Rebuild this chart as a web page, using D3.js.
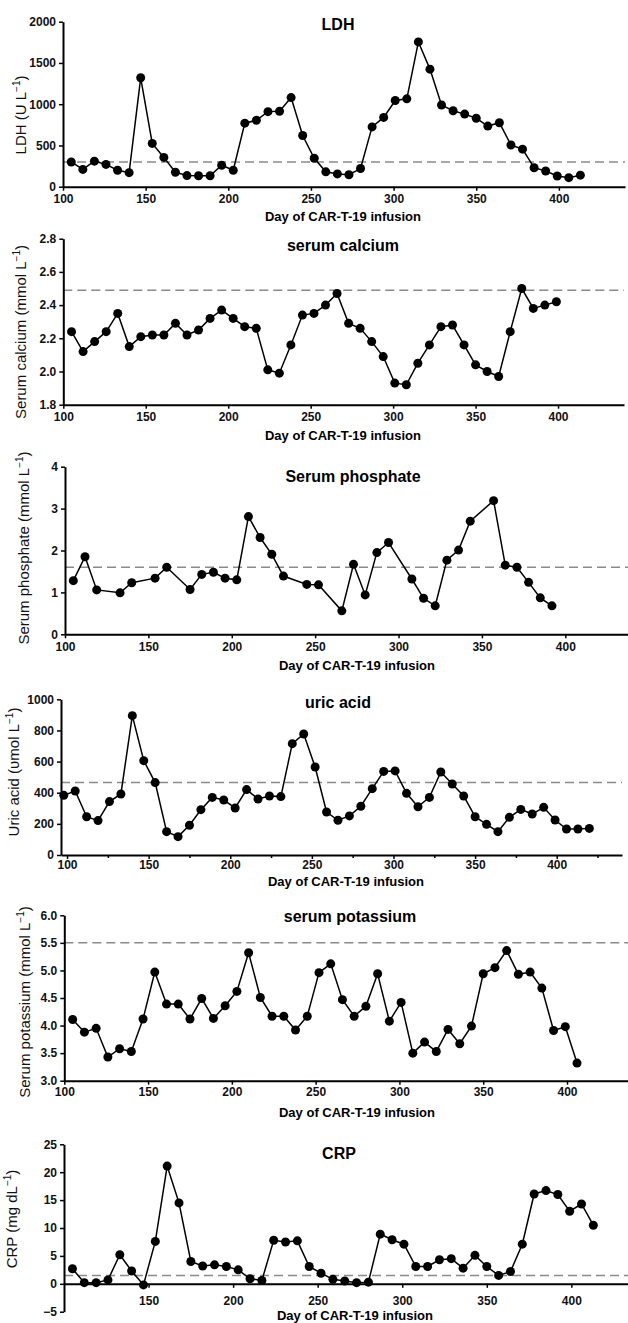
<!DOCTYPE html>
<html>
<head>
<meta charset="utf-8">
<script src="https://cdn.jsdelivr.net/npm/d3@7"></script>
<style>
    body { margin: 0; background: #fff; }
    svg { display: block; }
    .tick text {
        font-family: "Liberation Sans Narrow", "Liberation Sans", Arial, sans-serif;
        font-weight: bold;
        font-size: 12px;
        fill: #111;
    }
</style>
</head>
<body>
<div id="chart"></div>
<script>
// ---- data ----
const ldhDays = [105, 112, 119, 126, 133, 140, 147, 154, 161, 168, 175, 182, 189, 196, 203, 210, 217, 224, 231, 238, 245, 252, 259, 266, 273, 280, 287, 294, 301, 308, 315, 322, 329, 336, 343, 350, 357, 364, 371, 378, 385, 392, 399, 406, 413];
const ldhValues = [300, 210, 310, 270, 200, 170, 1320, 525, 355, 175, 135, 133, 133, 260, 200, 770, 805, 910, 915, 1080, 620, 345, 180, 155, 145, 220, 725, 840, 1045, 1065, 1755, 1425, 990, 920, 880, 830, 735, 775, 505, 455, 230, 190, 130, 110, 140];
const ldhRef = 300;
const ldhTicks = [0, 500, 1000, 1500, 2000];

const calciumDays = [105, 112, 119, 126, 133, 140, 147, 154, 161, 168, 175, 182, 189, 196, 203, 210, 217, 224, 231, 238, 245, 252, 259, 266, 273, 280, 287, 294, 301, 308, 315, 322, 329, 336, 343, 350, 357, 364, 371, 378, 385, 392, 399];
const calciumValues = [2.24, 2.12, 2.18, 2.24, 2.35, 2.15, 2.21, 2.22, 2.22, 2.29, 2.22, 2.25, 2.32, 2.37, 2.32, 2.27, 2.26, 2.01, 1.99, 2.16, 2.34, 2.35, 2.40, 2.47, 2.29, 2.26, 2.18, 2.09, 1.93, 1.92, 2.05, 2.16, 2.27, 2.28, 2.16, 2.04, 2.00, 1.97, 2.24, 2.50, 2.38, 2.40, 2.42];
const calciumRef = 2.49;
const calciumTicks = [1.8, 2.0, 2.2, 2.4, 2.6, 2.8];

const phosphateDays = [105, 112, 119, 133, 140, 154, 161, 175, 182, 189, 196, 203, 210, 217, 224, 231, 245, 252, 266, 273, 280, 287, 294, 308, 315, 322, 329, 336, 343, 357, 364, 371, 378, 385, 392];
const phosphateValues = [1.28, 1.85, 1.06, 0.99, 1.23, 1.34, 1.60, 1.07, 1.43, 1.48, 1.34, 1.30, 2.81, 2.31, 1.91, 1.39, 1.19, 1.18, 0.56, 1.67, 0.94, 1.95, 2.19, 1.32, 0.86, 0.68, 1.77, 2.01, 2.70, 3.19, 1.65, 1.60, 1.24, 0.87, 0.68];
const phosphateRef = 1.6;
const phosphateTicks = [0, 1, 2, 3, 4];

const uricDays = [98, 105, 112, 119, 126, 133, 140, 147, 154, 161, 168, 175, 182, 189, 196, 203, 210, 217, 224, 231, 238, 245, 252, 259, 266, 273, 280, 287, 294, 301, 308, 315, 322, 329, 336, 343, 350, 357, 364, 371, 378, 385, 392, 399, 406, 413, 420];
const uricValues = [383, 411, 246, 221, 343, 392, 895, 606, 465, 150, 118, 191, 291, 370, 353, 302, 420, 360, 379, 375, 715, 777, 565, 276, 223, 251, 313, 426, 537, 540, 396, 310, 370, 533, 456, 379, 246, 197, 150, 242, 293, 263, 306, 225, 167, 167, 171];
const uricRef = 465;
const uricTicks = [0, 200, 400, 600, 800, 1000];
const uricMinorTicks = [125, 175, 225, 275, 325, 375, 425];

const potassiumDays = [105, 112, 119, 126, 133, 140, 147, 154, 161, 168, 175, 182, 189, 196, 203, 210, 217, 224, 231, 238, 245, 252, 259, 266, 273, 280, 287, 294, 301, 308, 315, 322, 329, 336, 343, 350, 357, 364, 371, 378, 385, 392, 399, 406];
const potassiumValues = [4.11, 3.88, 3.95, 3.43, 3.58, 3.53, 4.12, 4.97, 4.39, 4.39, 4.12, 4.49, 4.13, 4.36, 4.62, 5.32, 4.51, 4.17, 4.17, 3.92, 4.17, 4.96, 5.12, 4.47, 4.17, 4.35, 4.94, 4.08, 4.42, 3.50, 3.70, 3.53, 3.93, 3.67, 3.99, 4.94, 5.05, 5.36, 4.93, 4.97, 4.68, 3.91, 3.98, 3.32];
const potassiumRef = 5.5;
const potassiumTicks = [3.0, 3.5, 4.0, 4.5, 5.0, 5.5, 6.0];

const crpDays = [105, 112, 119, 126, 133, 140, 147, 154, 161, 168, 175, 182, 189, 196, 203, 210, 217, 224, 231, 238, 245, 252, 259, 266, 273, 280, 287, 294, 301, 308, 315, 322, 329, 336, 343, 350, 357, 364, 371, 378, 385, 392, 399, 406, 413];
const crpValues = [2.7, 0.2, 0.2, 0.7, 5.2, 2.3, -0.2, 7.6, 21.1, 14.5, 4.0, 3.2, 3.4, 3.1, 2.5, 0.9, 0.6, 7.8, 7.5, 7.7, 3.1, 1.9, 0.8, 0.5, 0.2, 0.3, 8.9, 7.9, 7.1, 3.1, 3.1, 4.3, 4.5, 2.8, 5.1, 3.1, 1.5, 2.2, 7.1, 16.1, 16.7, 16.0, 13.0, 14.3, 10.5];
const crpRef = 1.5;
const crpTicks = [-5, 0, 5, 10, 15, 20, 25];

const dayTicks = [100, 150, 200, 250, 300, 350, 400];
const crpDayTicks = [150, 200, 250, 300, 350, 400];
const xAxisTitle = 'Day of CAR-T-19 infusion';

// ---- panels: data + layout ----
const panels = [
    {
        title: 'LDH', yLabel: 'LDH (U L', days: ldhDays, values: ldhValues, ref: ldhRef,
        yTicks: ldhTicks, fmt: d3.format('d'), xTicks: dayTicks,
        xDomain: [100, 440], xRange: [63, 625], yDomain: [0, 2000], yRange: [186.7, 21.7],
        xPad: 4, title_xy: [338, 24], xTitle_xy: [343, 216], yLabel_xy: [21, 115]
    },
    {
        title: 'serum calcium', yLabel: 'Serum calcium (mmol L', days: calciumDays, values: calciumValues, ref: calciumRef,
        yTicks: calciumTicks, fmt: d3.format('.1f'), xTicks: dayTicks,
        xDomain: [100, 440], xRange: [63.3, 624], yDomain: [1.8, 2.8], yRange: [404.7, 238.7],
        xPad: 4, title_xy: [343, 245], xTitle_xy: [343, 435], yLabel_xy: [21, 332]
    },
    {
        title: 'Serum phosphate', yLabel: 'Serum phosphate (mmol L', days: phosphateDays, values: phosphateValues, ref: phosphateRef,
        yTicks: phosphateTicks, fmt: d3.format('d'), xTicks: dayTicks,
        xDomain: [100, 440], xRange: [65, 632], yDomain: [0, 4], yRange: [634.3, 466.7],
        xPad: 4, title_xy: [353, 476], xTitle_xy: [357, 665], yLabel_xy: [24, 548]
    },
    {
        title: 'uric acid', yLabel: 'Uric acid (\u03c5mol L', days: uricDays, values: uricValues, ref: uricRef,
        yTicks: uricTicks, fmt: d3.format('d'), xTicks: dayTicks, minor: uricMinorTicks,
        xDomain: [96.3, 440], xRange: [61, 622], yDomain: [0, 1000], yRange: [855, 699.3],
        xPad: 1, title_xy: [338, 702], xTitle_xy: [346, 881], yLabel_xy: [14, 772]
    },
    {
        title: 'serum potassium', yLabel: 'Serum potassium (mmol L', days: potassiumDays, values: potassiumValues, ref: potassiumRef,
        yTicks: potassiumTicks, fmt: d3.format('.1f'), xTicks: dayTicks,
        xDomain: [100, 440], xRange: [64.3, 634], yDomain: [3, 6], yRange: [1080.7, 915.3],
        xPad: 3, title_xy: [350, 916], xTitle_xy: [357, 1112], yLabel_xy: [25, 1002]
    },
    {
        title: 'CRP', yLabel: 'CRP (mg dL', days: crpDays, values: crpValues, ref: crpRef,
        yTicks: crpTicks, fmt: d3.format('d'), xTicks: crpDayTicks, zeroAxis: true,
        xDomain: [100, 440], xRange: [64, 639], yDomain: [-5, 25], yRange: [1311.7, 1144.3],
        xPad: 9, title_xy: [339, 1153], xTitle_xy: [355, 1315], yLabel_xy: [12, 1219]
    }
];

const svg = d3.select('#chart')
    .append('svg')
    .attr('width', 628)
    .attr('height', 1323)
    .style('background', '#fff');

panels.forEach((p) => {
    const g = svg.append('g');
    const x = d3.scaleLinear().domain(p.xDomain).range(p.xRange);
    const y = d3.scaleLinear().domain(p.yDomain).range(p.yRange);
    const axisY = p.zeroAxis ? y(0) : p.yRange[0];

    // reference (upper normal) dashed line
    g.append('line')
        .attr('x1', p.xRange[0]).attr('x2', p.xRange[1])
        .attr('y1', y(p.ref)).attr('y2', y(p.ref))
        .attr('stroke', '#8a8a8a')
        .attr('stroke-width', 1.5)
        .attr('stroke-dasharray', '9,5');

    // x axis
    g.append('g')
        .attr('transform', `translate(0,${axisY})`)
        .call(d3.axisBottom(x).tickValues(p.xTicks).tickSize(4).tickPadding(p.xPad).tickSizeOuter(0));

    if (p.minor) {
        g.append('g')
            .attr('transform', `translate(0,${axisY})`)
            .call(d3.axisBottom(x).tickValues(p.minor).tickSize(3).tickFormat('').tickSizeOuter(0))
            .select('.domain').remove();
    }

    // y axis
    g.append('g')
        .attr('transform', `translate(${p.xRange[0]},0)`)
        .call(d3.axisLeft(y).tickValues(p.yTicks).tickFormat(p.fmt).tickSize(4).tickPadding(3).tickSizeOuter(0));

    g.selectAll('.domain').attr('stroke', '#000').attr('stroke-width', 2);
    g.selectAll('.tick line').attr('stroke', '#000').attr('stroke-width', 1.5);

    // data line + markers
    const pts = p.days.map((d, i) => [d, p.values[i]]);
    g.append('path')
        .datum(pts)
        .attr('fill', 'none')
        .attr('stroke', '#000')
        .attr('stroke-width', 1.5)
        .attr('d', d3.line().x((d) => x(d[0])).y((d) => y(d[1])));

    g.selectAll('circle')
        .data(pts)
        .join('circle')
        .attr('cx', (d) => x(d[0]))
        .attr('cy', (d) => y(d[1]))
        .attr('r', 4.5)
        .attr('fill', '#000');

    // titles
    g.append('text')
        .attr('x', p.title_xy[0]).attr('y', p.title_xy[1])
        .attr('dy', '0.35em')
        .attr('text-anchor', 'middle')
        .style('font-family', '"Liberation Sans", Arial, sans-serif')
        .style('font-weight', 'bold')
        .style('font-size', '16px')
        .text(p.title);

    g.append('text')
        .attr('x', p.xTitle_xy[0]).attr('y', p.xTitle_xy[1])
        .attr('dy', '0.35em')
        .attr('text-anchor', 'middle')
        .style('font-family', '"Liberation Sans", Arial, sans-serif')
        .style('font-weight', 'bold')
        .style('font-size', '13px')
        .text(xAxisTitle);

    const yl = g.append('text')
        .attr('transform', `translate(${p.yLabel_xy[0]},${p.yLabel_xy[1]}) rotate(-90)`)
        .attr('dy', '0.35em')
        .attr('text-anchor', 'middle')
        .style('font-family', '"Liberation Sans", Arial, sans-serif')
        .style('font-size', '15px')
        .style('fill', '#111');
    yl.append('tspan').text(p.yLabel);
    yl.append('tspan').attr('dy', -6).style('font-size', '10px').text('\u22121');
    yl.append('tspan').attr('dy', 6).text(')');
});
</script>
</body>
</html>
